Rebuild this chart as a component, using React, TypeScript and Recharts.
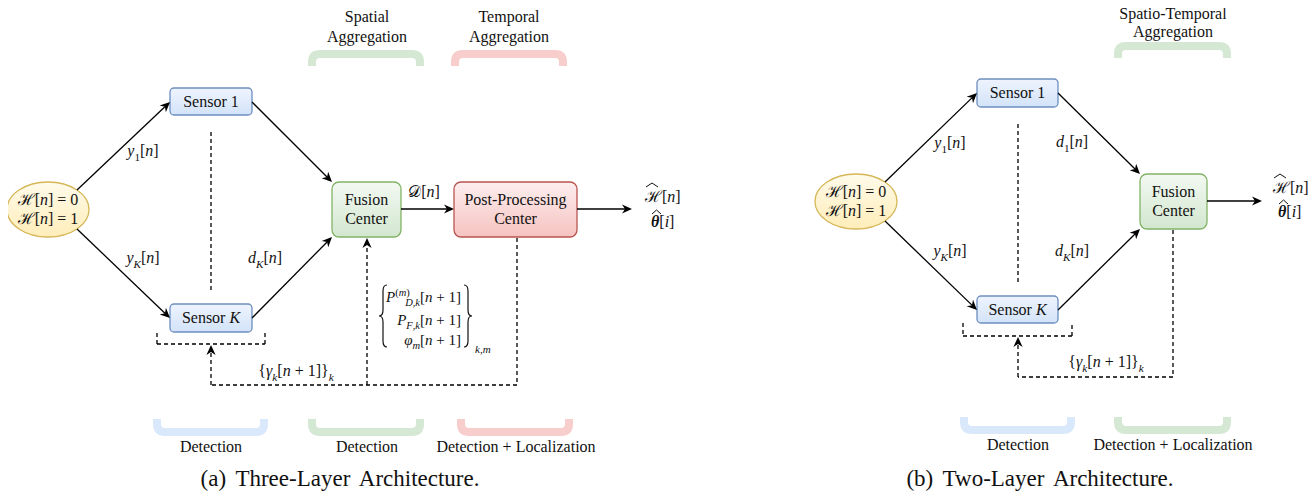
import React from "react";
import { ScatterChart, XAxis, YAxis, Scatter, ReferenceArea, ReferenceLine } from "recharts";

const WIDTH = 1316;
const HEIGHT = 499;
const SERIF = "Liberation Serif";

// blocks of the two diagrams, picture pixels (y grows downwards)
const nodes = [
  { id: "a-hyp", kind: "hyp", x1: 7, y1: 182, x2: 89, y2: 237, lines: ["$ℋ[n] = 0$", "$ℋ[n] = 1$"] },
  { id: "a-s1", kind: "sensor", x1: 170, y1: 88, x2: 252, y2: 115, lines: ["Sensor 1"] },
  { id: "a-sk", kind: "sensor", x1: 170, y1: 304, x2: 252, y2: 332, lines: ["Sensor $K$"] },
  { id: "a-fc", kind: "fusion", x1: 332, y1: 182, x2: 401, y2: 237, lines: ["Fusion", "Center"] },
  { id: "a-pp", kind: "post", x1: 454, y1: 182, x2: 577, y2: 237, lines: ["Post-Processing", "Center"] },
  { id: "b-hyp", kind: "hyp", x1: 815, y1: 174, x2: 897, y2: 229, lines: ["$ℋ[n] = 0$", "$ℋ[n] = 1$"] },
  { id: "b-s1", kind: "sensor", x1: 977, y1: 79, x2: 1058, y2: 107, lines: ["Sensor 1"] },
  { id: "b-sk", kind: "sensor", x1: 977, y1: 296, x2: 1058, y2: 323, lines: ["Sensor $K$"] },
  { id: "b-fc", kind: "fusion", x1: 1140, y1: 174, x2: 1207, y2: 229, lines: ["Fusion", "Center"] },
];

// [x1, y1, x2, y2]
const solidArrows = [
  [77, 190, 170, 102],
  [252, 102, 332, 182],
  [77, 229, 170, 318],
  [252, 318, 332, 237],
  [401, 209, 454, 209],
  [577, 209, 632, 209],
  [885, 182, 977, 93],
  [1058, 93, 1140, 174],
  [885, 221, 977, 310],
  [1058, 310, 1140, 229],
  [1207, 201, 1262, 201],
];

// [x1, y1, x2, y2, arrow head]
const dashedLinks = [
  [211, 132, 211, 290, 0],
  [157, 333, 157, 344, 0],
  [157, 344, 265, 344, 0],
  [265, 344, 265, 333, 0],
  [517, 238, 517, 385, 0],
  [517, 385, 211, 385, 0],
  [211, 385, 211, 345, 1],
  [367, 385, 367, 238, 1],
  [1018, 124, 1018, 282, 0],
  [963, 323, 963, 336, 0],
  [963, 336, 1072, 336, 0],
  [1072, 336, 1072, 323, 0],
  [1173, 230, 1173, 377, 0],
  [1173, 377, 1018, 377, 0],
  [1018, 377, 1018, 337, 1],
];

const brackets = [
  { x1: 308, x2: 424, y1: 50, y2: 66, tone: "green", open: "down" },
  { x1: 451, x2: 567, y1: 50, y2: 66, tone: "red", open: "down" },
  { x1: 153, x2: 268, y1: 419, y2: 436, tone: "blue", open: "up" },
  { x1: 308, x2: 424, y1: 419, y2: 436, tone: "green", open: "up" },
  { x1: 457, x2: 573, y1: 419, y2: 436, tone: "red", open: "up" },
  { x1: 1114, x2: 1231, y1: 42, y2: 58, tone: "green", open: "down" },
  { x1: 960, x2: 1075, y1: 417, y2: 434, tone: "blue", open: "up" },
  { x1: 1114, x2: 1231, y1: 417, y2: 434, tone: "green", open: "up" },
];

const groupTitles = [
  { x: 367, y: 17, text: "Spatial" },
  { x: 367, y: 37, text: "Aggregation" },
  { x: 509, y: 17, text: "Temporal" },
  { x: 509, y: 37, text: "Aggregation" },
  { x: 1173, y: 14, text: "Spatio-Temporal" },
  { x: 1173, y: 32, text: "Aggregation" },
];

const groupNotes = [
  { x: 211, y: 447, text: "Detection" },
  { x: 367, y: 447, text: "Detection" },
  { x: 516, y: 447, text: "Detection + Localization" },
  { x: 1018, y: 445, text: "Detection" },
  { x: 1173, y: 445, text: "Detection + Localization" },
];

const signalLabels = [
  { x: 143, y: 151, text: "$y_{1}[n]$" },
  { x: 143, y: 258, text: "$y_{K}[n]$" },
  { x: 265, y: 258, text: "$d_{K}[n]$" },
  { x: 424, y: 192, text: "$𝒟[n]$" },
  { x: 950, y: 143, text: "$y_{1}[n]$" },
  { x: 1072, y: 142, text: "$d_{1}[n]$" },
  { x: 950, y: 251, text: "$y_{K}[n]$" },
  { x: 1072, y: 251, text: "$d_{K}[n]$" },
];

const feedbackLabels = [
  { x: 296, y: 371, text: "${γ_{k}[n + 1]}_{k}$" },
  { x: 1106, y: 362, text: "${γ_{k}[n + 1]}_{k}$" },
];

const matrixRows = [
  { x: 461, y: 297, text: "$P^{(m)}_{D,k}[n + 1]$" },
  { x: 461, y: 320, text: "$P_{F,k}[n + 1]$" },
  { x: 461, y: 340, text: "$φ_{m}[n + 1]$" },
];

const matrixIndex = [{ x: 475, y: 349, text: "$k,m$" }];

const braces = [
  { x: 383, y: 316, side: "left" },
  { x: 468, y: 316, side: "right" },
];

const estimates = [
  { x: 645, y: 197, text: "$ℋ[n]$" },
  { x: 651, y: 222, text: "$*θ*[i]$" },
  { x: 1273, y: 188, text: "$ℋ[n]$" },
  { x: 1278, y: 212, text: "$*θ*[i]$" },
];

const captions = [
  { x: 340, y: 478, text: "(a) Three-Layer Architecture." },
  { x: 1040, y: 478, text: "(b) Two-Layer Architecture." },
];

const TONES: Record<string, string> = { blue: "#dae8fc", green: "#d5e8d4", red: "#f8cecc" };

const NODE_STYLE: Record<string, any> = {
  sensor: { top: "#eef4fe", bottom: "#d3e3f9", stroke: "#6c8ebf", r: 4 },
  hyp: { top: "#fffbeb", bottom: "#ffedb9", stroke: "#d6b656", r: 0 },
  fusion: { top: "#f3f9f2", bottom: "#d2e7cf", stroke: "#82b366", r: 7 },
  post: { top: "#fdeeee", bottom: "#f5c3c1", stroke: "#b85450", r: 7 },
};

type Run = { t: string; it: boolean; bold: boolean; lvl: number; dx?: number };

function parseMath(src: string, size: number): Run[] {
  const chars = Array.from(src);
  const runs: Run[] = [];
  let math = false;
  let bold = false;
  const push = (txt: string[], lvl: number, fresh = false) => {
    txt.forEach((ch, k) => {
      const it = math && /[A-Za-zα-ωφγθ]/.test(ch);
      const last = runs[runs.length - 1];
      if (!(fresh && k === 0) && last && last.it === it && last.bold === bold && last.lvl === lvl) last.t += ch;
      else runs.push({ t: ch, it, bold, lvl });
    });
  };
  let i = 0;
  while (i < chars.length) {
    const c = chars[i];
    if (c === "$") { math = !math; i++; continue; }
    if (c === "*") { bold = !bold; i++; continue; }
    if ((c === "_" || c === "^") && chars[i + 1] === "{") {
      const end = chars.indexOf("}", i);
      const body = chars.slice(i + 2, end);
      const lvl = c === "_" ? -1 : 1;
      const prev = runs[runs.length - 1];
      const start = runs.length;
      push(body, lvl, true);
      if (prev && prev.lvl === 1 && lvl === -1) runs[start].dx = -Array.from(prev.t).length * size * 0.7 * 0.45;
      i = end + 1;
      continue;
    }
    push([c], 0);
    i++;
  }
  return runs;
}

function MathText({ x, y, src, size, anchor = "middle", spacing }: any) {
  const runs = parseMath(src, size);
  let shift = 0;
  return (
    <text
      x={x}
      y={y + size * 0.34}
      fontSize={size}
      textAnchor={anchor}
      fill="#111"
      style={{ fontFamily: SERIF, whiteSpace: "pre", wordSpacing: spacing }}
    >
      {runs.map((r, k) => {
        const target = r.lvl < 0 ? size * 0.28 : r.lvl > 0 ? -size * 0.4 : 0;
        const dy = target - shift;
        shift = target;
        return (
          <tspan
            key={k}
            dx={r.dx}
            dy={dy ? dy : undefined}
            fontStyle={r.it ? "italic" : undefined}
            fontWeight={r.bold ? 700 : undefined}
            fontSize={r.lvl ? size * 0.7 : undefined}
          >
            {r.t}
          </tspan>
        );
      })}
    </text>
  );
}

const nodeShape = (node: any) => (p: any) => {
  const st = NODE_STYLE[node.kind];
  const { x, y, width, height } = p;
  const gid = `grad-${node.id}`;
  const cy = y + height / 2;
  const gap = 19;
  return (
    <g>
      <defs>
        <linearGradient id={gid} x1="0" y1="0" x2="0" y2="1">
          <stop offset="0" stopColor={st.top} />
          <stop offset="1" stopColor={st.bottom} />
        </linearGradient>
      </defs>
      {node.kind === "hyp" ? (
        <ellipse cx={x + width / 2} cy={cy} rx={width / 2} ry={height / 2} fill={`url(#${gid})`} stroke={st.stroke} strokeWidth={1.3} />
      ) : (
        <rect x={x} y={y} width={width} height={height} rx={st.r} fill={`url(#${gid})`} stroke={st.stroke} strokeWidth={1.3} />
      )}
      {node.lines.map((ln: string, k: number) => (
        <MathText key={k} x={x + width / 2} y={cy + (k - (node.lines.length - 1) / 2) * gap} src={ln} size={16} />
      ))}
    </g>
  );
};

const bracketShape = (b: any) => (p: any) => {
  const { x, y, width, height } = p;
  const sw = 8;
  const r = 8;
  const L = x + sw / 2;
  const R = x + width - sw / 2;
  const T = y + sw / 2;
  const B = y + height - sw / 2;
  const d =
    b.open === "down"
      ? `M${L},${y + height} V${T + r} Q${L},${T} ${L + r},${T} H${R - r} Q${R},${T} ${R},${T + r} V${y + height}`
      : `M${L},${y} V${B - r} Q${L},${B} ${L + r},${B} H${R - r} Q${R},${B} ${R},${B - r} V${y}`;
  return <path d={d} fill="none" stroke={TONES[b.tone]} strokeWidth={sw} />;
};

const linkShape = (dashed: boolean, head: boolean) => (p: any) => {
  const { x1, y1, x2, y2 } = p;
  const len = Math.hypot(x2 - x1, y2 - y1) || 1;
  const ux = (x2 - x1) / len;
  const uy = (y2 - y1) / len;
  const hl = 10;
  const hw = 4.6;
  const notch = 7;
  const ex = head ? x2 - ux * notch : x2;
  const ey = head ? y2 - uy * notch : y2;
  const bx = x2 - ux * hl;
  const by = y2 - uy * hl;
  return (
    <g>
      <line x1={x1} y1={y1} x2={ex} y2={ey} stroke="#000" strokeWidth={1.3} strokeDasharray={dashed ? "4 3" : undefined} />
      {head && (
        <path
          d={`M${x2},${y2} L${bx - uy * hw},${by + ux * hw} L${x2 - ux * notch},${y2 - uy * notch} L${bx + uy * hw},${by - ux * hw} Z`}
          fill="#000"
        />
      )}
    </g>
  );
};

const textShape = (size: number, anchor = "middle", spacing?: number) => (p: any) => (
  <MathText x={p.cx} y={p.cy} src={p.payload.text} size={size} anchor={anchor} spacing={spacing} />
);

const estimateShape = (p: any) => {
  const { cx, cy, payload } = p;
  const wide = payload.text.includes("ℋ");
  const w = wide ? 12 : 9;
  const lift = wide ? 14 : 12;
  return (
    <g>
      <MathText x={cx} y={cy} src={payload.text} size={16} anchor="start" />
      <path
        d={`M${cx + 1},${cy - lift + 4} L${cx + 1 + w / 2},${cy - lift} L${cx + 1 + w},${cy - lift + 4}`}
        fill="none"
        stroke="#111"
        strokeWidth={1}
      />
    </g>
  );
};

const braceShape = (p: any) => {
  const { cx, cy, payload } = p;
  const h = 62;
  const s = payload.side === "left" ? 1 : -1;
  const top = cy - h / 2;
  const bot = cy + h / 2;
  const d =
    `M${cx + 4 * s},${top} Q${cx},${top} ${cx},${top + 6} L${cx},${cy - 6} Q${cx},${cy} ${cx - 4 * s},${cy} ` +
    `Q${cx},${cy} ${cx},${cy + 6} L${cx},${bot - 6} Q${cx},${bot} ${cx + 4 * s},${bot}`;
  return <path d={d} fill="none" stroke="#111" strokeWidth={1.2} />;
};

export default function App() {
  return (
    <div style={{ margin: -8, width: WIDTH, height: HEIGHT, background: "#fff", fontFamily: SERIF }}>
      <ScatterChart
        width={WIDTH}
        height={HEIGHT}
        margin={{ top: 0, right: 0, bottom: 0, left: 0 }}
        style={{ overflow: "visible", fontFamily: SERIF }}
      >
        <XAxis type="number" dataKey="x" domain={[0, WIDTH]} hide />
        <YAxis type="number" dataKey="y" domain={[0, HEIGHT]} reversed hide />

        {brackets.map((b, i) => (
          <ReferenceArea key={`br${i}`} x1={b.x1} x2={b.x2} y1={b.y1} y2={b.y2} shape={bracketShape(b)} />
        ))}

        {nodes.map((n) => (
          <ReferenceArea key={n.id} x1={n.x1} x2={n.x2} y1={n.y1} y2={n.y2} shape={nodeShape(n)} />
        ))}

        {solidArrows.map(([x1, y1, x2, y2], i) => (
          <ReferenceLine
            key={`a${i}`}
            segment={[{ x: x1, y: y1 }, { x: x2, y: y2 }]}
            shape={linkShape(false, true)}
          />
        ))}

        {dashedLinks.map(([x1, y1, x2, y2, head], i) => (
          <ReferenceLine
            key={`d${i}`}
            segment={[{ x: x1, y: y1 }, { x: x2, y: y2 }]}
            shape={linkShape(true, head === 1)}
          />
        ))}

        <Scatter data={groupTitles} shape={textShape(16)} isAnimationActive={false} />
        <Scatter data={groupNotes} shape={textShape(16)} isAnimationActive={false} />
        <Scatter data={signalLabels} shape={textShape(16)} isAnimationActive={false} />
        <Scatter data={feedbackLabels} shape={textShape(16)} isAnimationActive={false} />
        <Scatter data={matrixRows} shape={textShape(15, "end")} isAnimationActive={false} />
        <Scatter data={matrixIndex} shape={textShape(11, "start")} isAnimationActive={false} />
        <Scatter data={braces} shape={braceShape} isAnimationActive={false} />
        <Scatter data={estimates} shape={estimateShape} isAnimationActive={false} />
        <Scatter data={captions} shape={textShape(23, "middle", 4)} isAnimationActive={false} />
      </ScatterChart>
    </div>
  );
}
